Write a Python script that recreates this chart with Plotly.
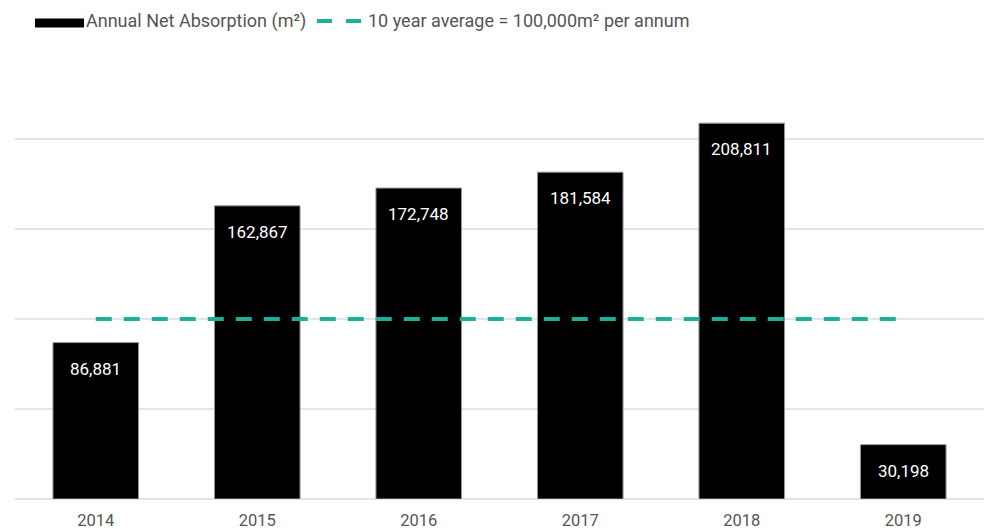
import plotly.graph_objects as go

years = ["2014", "2015", "2016", "2017", "2018", "2019"]
absorption = [86881, 162867, 172748, 181584, 208811, 30198]
average = [100000, 100000, 100000, 100000, 100000, 100000]
y_ticks = [0, 50000, 100000, 150000, 200000, 250000]

FONT = "Roboto"
TEAL = "#1bb09a"
GREY_TXT = "#555555"

fig = go.Figure()
fig.add_trace(go.Bar(
    x=years, y=absorption, width=0.53,
    marker=dict(color="black", line=dict(color="#999999", width=1)),
    name="Annual Net Absorption (m²)", showlegend=False,
))
fig.add_trace(go.Scatter(
    x=years, y=average, mode="lines",
    line=dict(color=TEAL, width=4, dash="16px,12px"),
    name="10 year average = 100,000m² per annum", showlegend=False,
))

# value labels: on a category axis, numeric x is the category index
for i, v in enumerate(absorption):
    fig.add_annotation(x=i, y=v, text=f"{v:,}", showarrow=False,
                       yanchor="top", yshift=-14,
                       font=dict(family=FONT, size=17, color="white"))

fig.update_layout(
    width=988, height=529,
    margin=dict(l=15, r=4, t=49, b=30),
    plot_bgcolor="white", paper_bgcolor="white",
    showlegend=False,
    xaxis=dict(type="category", categoryorder="array", categoryarray=years,
               range=[-0.5, len(years) - 0.5], automargin=False,
               showgrid=False, showline=False, ticks="",
               ticklabelstandoff=9,
               tickfont=dict(family=FONT, size=16.5, color=GREY_TXT)),
    yaxis=dict(range=[0, 250000], tickvals=y_ticks, showticklabels=False,
               showgrid=True, gridcolor="#e4e4e4", gridwidth=1.5,
               zeroline=True, zerolinecolor="#e4e4e4", zerolinewidth=1.5),
)

# custom legend, positioned in paper coordinates
W = 988 - 15 - 4
H = 529 - 49 - 30
def px(x):
    return (x - 15) / W
def py(y):
    return (499 - y) / H

fig.add_shape(type="rect", xref="paper", yref="paper",
              x0=px(35), x1=px(84), y0=py(27.5), y1=py(18.5),
              line=dict(width=0), fillcolor="black")
fig.add_shape(type="line", xref="paper", yref="paper",
              x0=px(317), x1=px(332), y0=py(21), y1=py(21),
              line=dict(color=TEAL, width=4))
fig.add_shape(type="line", xref="paper", yref="paper",
              x0=px(346), x1=px(361), y0=py(21), y1=py(21),
              line=dict(color=TEAL, width=4))
fig.add_annotation(xref="paper", yref="paper", x=px(84), y=py(20.5),
                   xanchor="left", yanchor="middle", showarrow=False,
                   text="Annual Net Absorption (m²)",
                   font=dict(family=FONT, size=18, color=GREY_TXT))
fig.add_annotation(xref="paper", yref="paper", x=px(366), y=py(20.5),
                   xanchor="left", yanchor="middle", showarrow=False,
                   text="10 year average = 100,000m² per annum",
                   font=dict(family=FONT, size=18, color=GREY_TXT))

fig.write_html("out.html")
